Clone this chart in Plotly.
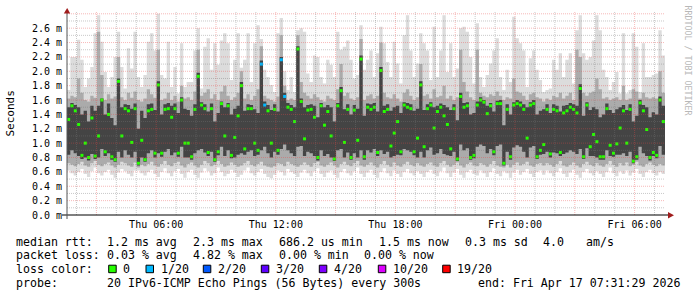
import plotly.graph_objects as go
from datetime import datetime, timedelta

# ---------------- data (ms), one value per 10-minute step ----------------
lo = [0.62,0.58,0.55,0.60,0.64,0.57,0.53,0.61,0.66,0.58,0.55,0.60,0.63,0.56,0.52,0.59,0.64,0.61,0.57,0.54,0.62,0.62,0.58,0.55,0.60,0.63,0.57,0.53,0.60,0.65,0.58,0.54,0.61,0.64,0.57,0.52] + \
     [0.6,0.63,0.56,0.52,0.59,0.65,0.61,0.55,0.58,0.66,0.6,0.54,0.57,0.63,0.59,0.53,0.56,0.62,0.66,0.58,0.55,0.6,0.64,0.57,0.53,0.51,0.56,0.62,0.6,0.55,0.64,0.6,0.57,0.53,0.59,0.63] + \
     [0.58,0.54,0.61,0.65,0.57,0.53,0.59,0.62,0.56,0.52,0.6,0.64,0.58,0.55,0.61,0.66,0.57,0.53,0.59,0.63,0.56,0.52,0.6,0.65,0.58,0.54,0.62,0.57,0.53,0.6,0.64,0.58,0.55,0.61,0.57,0.53] + \
     [0.6,0.63,0.57,0.54,0.61,0.66,0.58,0.53,0.59,0.64,0.56,0.52,0.6,0.63,0.57,0.55,0.62,0.58,0.53,0.6,0.65,0.57,0.54,0.61,0.58,0.52,0.59,0.63,0.56,0.6,0.64,0.57,0.53,0.6,0.62,0.56] + \
     [0.62,0.58,0.54,0.6,0.65,0.57,0.53,0.59,0.63,0.56,0.52,0.6,0.64,0.58,0.55,0.61,0.57,0.53,0.6,0.66,0.58,0.54,0.61,0.57,0.62,0.55,0.59,0.64,0.57,0.53,0.6,0.63,0.58,0.55,0.6,0.57]

p10 = [0.72,0.7,0.68,0.71,0.74,0.69,0.67,0.72,0.75,0.7,0.68,0.71,0.73,0.69,0.66,0.7,0.74,0.72,0.69,0.67,0.73,0.66,0.7,0.68,0.71,0.74,0.69,0.67,0.71,0.75,0.7,0.68,0.72,0.74,0.69,0.66] + \
      [0.71,0.73,0.69,0.66,0.7,0.75,0.72,0.68,0.7,0.75,0.71,0.67,0.69,0.73,0.7,0.67,0.69,0.72,0.75,0.7,0.68,0.71,0.74,0.69,0.67,0.66,0.68,0.72,0.71,0.68,0.74,0.71,0.69,0.67,0.7,0.73] + \
      [0.7,0.67,0.72,0.74,0.69,0.67,0.7,0.73,0.69,0.66,0.71,0.74,0.7,0.68,0.72,0.75,0.69,0.67,0.7,0.73,0.69,0.66,0.71,0.75,0.7,0.67,0.73,0.69,0.67,0.71,0.74,0.7,0.68,0.72,0.69,0.67] + \
      [0.71,0.73,0.69,0.67,0.72,0.75,0.7,0.67,0.7,0.73,0.69,0.66,0.71,0.73,0.69,0.68,0.72,0.7,0.67,0.71,0.75,0.69,0.67,0.66,0.7,0.66,0.7,0.73,0.69,0.71,0.74,0.69,0.67,0.71,0.72,0.69] + \
      [0.72,0.7,0.67,0.71,0.75,0.69,0.67,0.7,0.73,0.69,0.66,0.71,0.74,0.7,0.68,0.72,0.69,0.67,0.71,0.75,0.7,0.67,0.72,0.69,0.73,0.68,0.7,0.74,0.69,0.67,0.71,0.73,0.7,0.68,0.71,0.69]

q25 = [0.84,0.9,0.86,0.82,0.78,0.8,0.76,0.85,0.78,0.8,0.92,0.82,0.86,0.77,0.74,0.88,0.8,0.9,0.84,0.8,0.88,0.69,0.8,0.74,0.86,0.9,0.8,0.86,0.81,0.88,0.92,0.83,0.87,0.81,0.95,0.8] + \
      [0.8,0.77,0.86,0.9,0.92,0.87,0.82,0.88,0.74,0.83,0.95,0.82,0.9,0.79,0.8,0.84,0.86,0.84,0.88,0.9,0.82,0.84,0.9,0.95,0.86,0.8,0.88,0.84,0.92,0.98,0.9,0.86,0.82,0.95,0.96,0.82] + \
      [0.88,0.86,0.82,0.76,0.9,0.82,0.85,0.8,0.75,0.9,0.92,0.8,0.87,0.77,0.86,0.8,0.9,0.77,0.9,0.87,0.92,0.82,0.9,0.85,0.88,0.8,0.82,0.84,0.83,0.92,0.9,0.88,0.83,0.8,0.88,0.8] + \
      [0.9,0.94,0.84,0.86,0.92,0.85,0.83,0.82,0.88,0.75,0.98,0.9,0.93,0.77,0.79,0.95,0.98,0.96,0.86,0.92,0.83,0.96,0.98,0.69,0.88,0.77,0.94,0.97,0.95,0.88,0.8,0.94,0.96,0.78,0.84,0.85] + \
      [0.88,0.8,0.87,0.86,0.82,0.85,0.87,0.9,0.88,0.85,0.92,0.78,0.93,0.82,0.82,0.8,0.77,0.77,0.9,0.82,0.81,0.84,0.84,0.86,0.82,0.88,0.72,0.77,0.95,0.86,0.82,0.76,0.82,0.79,0.96,0.84]

median = [1.33,1.52,1.45,1.26,0.83,1.0,0.8,1.35,0.82,1.1,1.6,0.88,1.4,0.81,0.77,1.86,1.1,1.48,1.45,1.01,1.48,0.72,1.04,0.77,1.45,1.47,0.86,1.81,0.86,1.47,1.48,1.36,1.48,0.86,1.6,1.0] + \
         [1.0,0.81,1.47,1.93,1.53,1.48,0.87,1.48,0.77,0.88,1.55,1.1,1.52,0.83,1.08,1.38,1.8,0.92,1.48,1.48,1.0,0.9,2.1,1.53,1.45,1.0,1.47,0.9,2.16,1.65,1.5,1.47,1.3,2.31,1.58,1.06] + \
         [1.46,1.47,1.36,0.8,1.52,1.25,1.44,1.1,0.78,1.52,1.73,1.01,1.47,0.8,1.46,1.04,2.17,0.81,1.5,1.47,1.5,0.87,2.01,1.44,1.47,0.96,1.14,1.3,0.88,1.53,1.5,1.48,0.88,1.07,1.81,0.95] + \
         [1.48,1.53,1.21,1.44,1.5,1.38,1.26,0.92,1.48,0.78,1.65,1.5,1.52,0.8,0.83,1.53,1.6,1.57,1.41,1.52,0.88,1.55,1.55,0.72,1.47,0.81,1.53,1.55,1.53,1.47,1.07,1.53,1.55,0.81,0.9,0.98] + \
         [1.47,0.85,1.47,1.45,0.87,1.42,1.45,1.5,1.47,1.42,1.76,0.81,1.53,0.95,1.12,1.02,0.81,0.81,1.48,0.97,0.86,0.99,1.21,1.45,1.0,1.47,0.75,0.81,1.56,1.45,1.19,0.8,0.87,0.83,1.6,1.3]

q75 = [1.5,1.56,1.53,1.5,1.4,1.45,1.3,1.52,1.45,1.52,1.62,1.4,1.55,1.35,1.25,1.9,1.5,1.54,1.53,1.48,1.55,1.2,1.45,1.35,1.54,1.55,1.46,1.86,1.4,1.54,1.56,1.52,1.55,1.42,1.64,1.48] + \
      [1.46,1.38,1.54,1.98,1.57,1.54,1.44,1.55,1.3,1.42,1.58,1.5,1.56,1.4,1.48,1.52,1.85,1.45,1.54,1.53,1.47,1.42,2.15,1.58,1.53,1.46,1.54,1.44,2.2,1.7,1.56,1.53,1.5,2.35,1.62,1.5] + \
      [1.53,1.54,1.52,1.36,1.56,1.5,1.53,1.5,1.3,1.56,1.78,1.47,1.54,1.4,1.53,1.48,2.22,1.38,1.55,1.54,1.56,1.44,2.06,1.52,1.54,1.45,1.5,1.52,1.42,1.57,1.56,1.54,1.45,1.48,1.86,1.46] + \
      [1.54,1.57,1.5,1.52,1.55,1.53,1.5,1.46,1.54,1.32,1.7,1.56,1.57,1.4,1.42,1.58,1.64,1.6,1.52,1.56,1.44,1.59,1.6,1.25,1.54,1.4,1.57,1.6,1.58,1.54,1.5,1.57,1.6,1.4,1.45,1.47] + \
      [1.54,1.42,1.54,1.52,1.44,1.52,1.53,1.56,1.54,1.52,1.82,1.38,1.57,1.46,1.5,1.47,1.36,1.4,1.55,1.46,1.42,1.47,1.5,1.53,1.46,1.54,1.3,1.38,1.6,1.53,1.5,1.36,1.43,1.4,1.65,1.52]

p90 = [1.62,1.66,1.64,1.9,1.7,1.6,1.58,1.66,1.63,2.55,1.95,1.6,1.68,1.62,1.65,2.2,1.64,1.6,1.7,1.63,1.72,1.6,1.58,1.62,1.75,1.68,1.63,2.3,1.6,1.62,1.7,1.6,1.66,1.58,1.8,1.62] + \
      [1.64,1.6,1.72,2.3,1.66,1.7,1.75,1.62,1.68,1.6,1.72,1.8,1.66,1.6,1.64,1.7,2.0,1.62,1.68,1.6,1.66,1.75,2.35,1.66,1.62,1.6,1.58,1.65,2.5,1.8,1.6,1.62,1.6,2.5,1.85,1.7] + \
      [1.66,1.62,1.68,1.64,1.6,1.58,1.66,1.62,1.6,1.75,2.1,1.66,1.7,1.62,1.6,1.64,2.45,1.6,1.66,1.68,1.62,1.66,2.4,1.7,1.64,1.62,1.68,1.62,1.58,1.7,1.75,1.66,1.6,1.64,2.1,1.66] + \
      [1.68,1.62,1.75,1.64,1.66,1.8,1.62,1.66,1.6,1.64,2.3,1.85,1.72,1.64,1.6,2.3,1.7,1.66,1.64,1.68,1.66,1.72,1.66,1.6,1.64,1.62,1.9,1.72,1.7,1.66,1.6,1.68,1.7,1.64,1.62,1.58] + \
      [1.62,1.6,1.66,1.64,1.7,1.62,1.66,1.7,1.6,2.3,2.2,1.7,1.66,1.7,1.72,1.9,1.75,1.62,1.64,1.6,1.62,1.64,1.6,1.8,1.6,1.62,1.75,1.72,1.62,1.7,1.64,1.62,1.64,1.62,2.0,1.7]

hi = [1.74,2.2,2.2,2.44,2.16,1.78,1.9,2.06,2.53,2.78,2.41,1.99,1.78,1.92,2.2,2.55,2.06,1.76,2.32,2.04,2.55,1.92,1.78,1.95,2.41,2.53,2.29,2.8,1.95,1.9,2.41,1.78,2.06,1.69,2.39,1.78] + \
     [1.85,1.85,2.29,2.6,1.76,2.34,2.46,2.02,2.39,2.09,2.43,2.53,2.39,1.88,2.16,2.53,2.05,2.16,2.53,1.85,2.39,2.64,2.45,2.02,1.92,1.81,1.71,2.53,2.74,2.0,1.74,1.92,1.71,2.57,2.6,2.55] + \
     [1.97,1.85,2.22,2.2,1.92,1.83,2.16,2.09,1.92,2.55,2.3,2.34,2.43,2.16,1.9,1.95,2.64,2.02,2.16,2.29,1.92,2.25,2.62,2.39,2.13,1.92,2.41,2.11,1.83,2.5,2.78,2.29,1.92,2.11,2.53,2.39] + \
     [2.29,1.88,2.62,1.92,2.29,2.78,1.99,2.39,1.92,2.04,2.6,2.62,2.55,2.2,1.83,2.67,1.92,1.78,1.95,2.11,2.29,2.46,1.92,1.74,2.02,1.85,2.76,2.46,2.39,2.29,1.78,2.18,2.29,2.02,1.88,1.71] + \
     [1.74,1.76,2.16,2.02,2.25,1.92,2.16,2.25,1.83,2.57,2.78,2.25,2.16,2.2,2.43,2.78,2.57,2.02,1.92,1.74,1.85,1.99,1.69,2.53,1.69,1.74,2.53,2.34,1.71,2.39,1.92,1.92,1.95,1.97,2.57,2.22]

loss_steps = [58, 59, 64, 65]      # steps with packet loss
loss_counts = [1, 1, 1, 1]         # lost pings out of 20

x_tick_vals = ["2026-04-16 06:00", "2026-04-16 12:00", "2026-04-16 18:00", "2026-04-17 00:00", "2026-04-17 06:00"]
x_tick_text = ["Thu 06:00", "Thu 12:00", "Thu 18:00", "Fri 00:00", "Fri 06:00"]
y_tick_vals = [0.0, 0.2, 0.4, 0.6, 0.8, 1.0, 1.2, 1.4, 1.6, 1.8, 2.0, 2.2, 2.4, 2.6]
y_tick_text = ["%.1f m" % v for v in y_tick_vals]

legend_keys = ["0", "1/20", "2/20", "3/20", "4/20", "10/20", "19/20"]
legend_colors = ["#26ff00", "#00b8ff", "#0059ff", "#5e00ff", "#7e00ff", "#dd00ff", "#ff0000"]

# ---------------- layout constants ----------------
W, H = 697, 297
L, R, T, B = 67, 32, 12, 82
PW, PH = W - L - R, H - T - B
MONO = "DejaVu Sans Mono"
START = datetime(2026, 4, 16, 1, 31, 29)
STEP = timedelta(minutes=10)
END = START + STEP * len(median)
YMAX = 2.825

def pxx(x):
    return (x - L) / PW

def pxy(y):
    return (H - B - y) / PH

times = [START + STEP * i for i in range(len(median))]
edges = times + [END]
centers = [t + STEP / 2 for t in times]

def ext(a):
    return list(a) + [a[-1]]

fig = go.Figure()
for low, high, col in [(lo, hi, "#dcdcdc"), (p10, p90, "#ababab"), (q25, q75, "#444444")]:
    fig.add_trace(go.Scatter(x=edges, y=ext(low), mode="lines",
                             line=dict(width=0, shape="hv"), hoverinfo="skip"))
    fig.add_trace(go.Scatter(x=edges, y=ext(high), mode="lines",
                             line=dict(width=0, shape="hv"), fill="tonexty",
                             fillcolor=col, hoverinfo="skip"))

loss_map = dict(zip(loss_steps, loss_counts))
loss_color_of = {0: legend_colors[0], 1: legend_colors[1], 2: legend_colors[2],
                 3: legend_colors[3], 4: legend_colors[4], 10: legend_colors[5], 19: legend_colors[6]}
mcolors = [loss_color_of[loss_map.get(i, 0)] for i in range(len(median))]

shapes = []
# vertical grid: every hour, red every 3 hours
h = START.replace(minute=0, second=0) + timedelta(hours=1)
while h < END:
    red = (h.hour % 3 == 0)
    shapes.append(dict(type="line", xref="x", yref="paper", x0=h, x1=h, y0=0, y1=1, layer="above",
                       line=dict(color="rgba(235,70,70,0.38)" if red else "rgba(120,120,120,0.40)",
                                 width=1, dash="1px,1px")))
    h += timedelta(hours=1)
# horizontal grid: every 0.1 ms, red every 0.2 ms
i = 1
while i * 0.1 < YMAX:
    v = round(i * 0.1, 2)
    red = (i % 2 == 0)
    shapes.append(dict(type="line", xref="paper", yref="y", x0=0, x1=1, y0=v, y1=v, layer="above",
                       line=dict(color="rgba(235,70,70,0.38)" if red else "rgba(120,120,120,0.40)",
                                 width=1, dash="1px,1px")))
    i += 1

# median markers drawn after grid (as a trace over shapes is impossible, so keep grid faint)
fig.add_trace(go.Scatter(x=centers, y=median, mode="markers",
                         marker=dict(symbol="square", size=3, color=mcolors, line=dict(width=0)),
                         hoverinfo="skip"))

# axis extensions and arrows
shapes.append(dict(type="line", xref="paper", yref="paper", x0=pxx(62), x1=pxx(669), y0=0, y1=0,
                   line=dict(color="#000000", width=1), layer="above"))
shapes.append(dict(type="line", xref="paper", yref="paper", x0=0, x1=0, y0=pxy(219), y1=pxy(11),
                   line=dict(color="#555555", width=1), layer="above"))
arrow_col = "#a01c1c"
shapes.append(dict(type="path", xref="paper", yref="paper", layer="above",
                   path="M %f %f L %f %f L %f %f Z" % (pxx(63.8), pxy(13.5), pxx(67.2), pxy(8), pxx(70.2), pxy(13.5)),
                   fillcolor=arrow_col, line=dict(color=arrow_col, width=0)))
shapes.append(dict(type="path", xref="paper", yref="paper", layer="above",
                   path="M %f %f L %f %f L %f %f Z" % (pxx(668), pxy(212), pxx(674), pxy(215.2), pxx(668), pxy(218.4)),
                   fillcolor=arrow_col, line=dict(color=arrow_col, width=0)))

annotations = []

def txt(x, y, s, size=11.6, color="#000000", angle=0, xanchor="left"):
    annotations.append(dict(x=pxx(x), y=pxy(y), xref="paper", yref="paper", text=s, showarrow=False,
                            xanchor=xanchor, yanchor="middle", textangle=angle,
                            font=dict(family=MONO, size=size, color=color),
                            borderpad=0, borderwidth=0))

line_y = [241.7, 255.3, 269.0, 282.7]
txt(16, line_y[0], "median rtt:")
for x, s in zip([107.3, 193.3, 279.3, 379.3, 465.3, 543.3, 586.0],
                ["1.2 ms avg", "2.3 ms max", "686.2 us min", "1.5 ms now", "0.3 ms sd", "4.0", "am/s"]):
    txt(x, line_y[0], s)
txt(16, line_y[1], "packet loss:")
for x, s in zip([107.3, 193.3, 279.3, 364.0],
                ["0.03 % avg", "4.82 % max", "0.00 % min", "0.00 % now"]):
    txt(x, line_y[1], s)
txt(16, line_y[2], "loss color:")
box_x = [108.7, 146.0, 203.3, 261.3, 319.3, 378.3, 442.7]
for bx, key, col in zip(box_x, legend_keys, legend_colors):
    shapes.append(dict(type="rect", xref="paper", yref="paper",
                       x0=pxx(bx), x1=pxx(bx + 7.5), y0=pxy(265.2), y1=pxy(272.7),
                       fillcolor=col, line=dict(color="#000000", width=1)))
    txt(bx + 14.5, line_y[2], key)
txt(16, line_y[3], "probe:")
txt(107.3, line_y[3], "20 IPv6-ICMP Echo Pings (56 Bytes) every 300s")
txt(478.3, line_y[3], "end: Fri Apr 17 07:31:29 2026")

txt(10.5, 113, "Seconds", size=11, angle=-90, xanchor="center")
txt(687.5, 60, "RRDTOOL / TOBI OETIKER", size=8.3, color="#b8b8b8", angle=90, xanchor="center")

fig.update_layout(
    width=W, height=H, margin=dict(l=L, r=R, t=T, b=B, pad=0),
    paper_bgcolor="#ffffff", plot_bgcolor="#ffffff", showlegend=False,
    shapes=shapes, annotations=annotations,
    xaxis=dict(type="date", range=[START, END], showgrid=False, zeroline=False,
               showline=False, tickvals=x_tick_vals, ticktext=x_tick_text,
               ticks="", ticklabelstandoff=2,
               tickfont=dict(family=MONO, size=10, color="#000000"), fixedrange=True),
    yaxis=dict(range=[0, YMAX], showgrid=False, zeroline=False, showline=False,
               tickvals=y_tick_vals, ticktext=y_tick_text, ticks="", ticklabelstandoff=4,
               tickfont=dict(family=MONO, size=10, color="#000000"), fixedrange=True),
)

fig.write_html("out.html")
